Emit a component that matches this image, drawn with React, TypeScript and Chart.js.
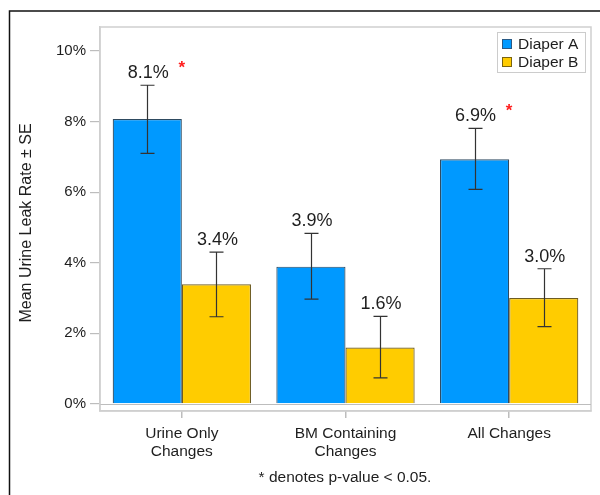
import React, { useEffect, useRef } from "react";
import { Chart, registerables } from "chart.js";

Chart.register(...registerables);

const categories: (string | string[])[] = [["Urine Only", "Changes"], ["BM Containing", "Changes"], "All Changes"];
const seriesNames = ["Diaper A", "Diaper B"];
const valuesA = [8.07, 3.89, 6.93];
const valuesB = [3.39, 1.6, 3.0];
const errHighA = [9.03, 4.83, 7.81];
const errLowA = [7.1, 2.97, 6.08];
const errHighB = [4.3, 2.48, 3.83];
const errLowB = [2.47, 0.74, 2.19];
const significantA = [true, false, true];
const significantB = [false, false, false];
const yTicks = [0, 2, 4, 6, 8, 10];
const yTitle = "Mean Urine Leak Rate \u00b1 SE";
const footnote = "* denotes p-value < 0.05.";

const FONT = "'Liberation Sans', Arial, sans-serif";
const BLUE = "#0099ff";
const YELLOW = "#ffcc00";
const TEXT = "#1e1e1e";

const customPlugin = {
  id: "custom",
  beforeDraw(chart: any) {
    const ctx = chart.ctx;
    const a = chart.chartArea;
    ctx.save();
    ctx.strokeStyle = "#111";
    ctx.lineWidth = 1.5;
    ctx.beginPath();
    ctx.moveTo(9.5, 495);
    ctx.lineTo(9.5, 11);
    ctx.lineTo(600, 11);
    ctx.stroke();
    ctx.strokeStyle = "#cfcfcf";
    ctx.lineWidth = 1.5;
    ctx.strokeRect(a.left, a.top, a.right - a.left, a.bottom - a.top);
    const y0 = chart.scales.y.getPixelForValue(0);
    ctx.strokeStyle = "#bdbdbd";
    ctx.lineWidth = 1;
    ctx.beginPath();
    ctx.moveTo(a.left, Math.round(y0) + 0.5);
    ctx.lineTo(a.right, Math.round(y0) + 0.5);
    ctx.stroke();
    ctx.restore();
  },
  afterDatasetsDraw(chart: any) {
    const ctx = chart.ctx;
    const ys = chart.scales.y;
    const highs = [errHighA, errHighB];
    const lows = [errLowA, errLowB];
    const vals = [valuesA, valuesB];
    const sigs = [significantA, significantB];
    ctx.save();
    for (let d = 0; d < 2; d++) {
      const meta = chart.getDatasetMeta(d);
      meta.data.forEach((bar: any, i: number) => {
        const x = Math.round(bar.x) + 0.5;
        const yh = ys.getPixelForValue(highs[d][i]);
        const yl = ys.getPixelForValue(lows[d][i]);
        ctx.strokeStyle = "#333333";
        ctx.lineWidth = 1.2;
        ctx.beginPath();
        ctx.moveTo(x, yh);
        ctx.lineTo(x, yl);
        ctx.moveTo(x - 7, yh);
        ctx.lineTo(x + 7, yh);
        ctx.moveTo(x - 7, yl);
        ctx.lineTo(x + 7, yl);
        ctx.stroke();
        const labelY = yh - 12;
        ctx.fillStyle = TEXT;
        ctx.font = `18px ${FONT}`;
        ctx.textAlign = "center";
        ctx.textBaseline = "middle";
        ctx.fillText(`${vals[d][i].toFixed(1)}%`, bar.x + 1, labelY);
        if (sigs[d][i]) {
          ctx.fillStyle = "#ff2020";
          ctx.font = `bold 17px ${FONT}`;
          ctx.textBaseline = "alphabetic";
          ctx.fillText("*", bar.x + bar.width / 2, labelY);
        }
      });
    }
    ctx.fillStyle = TEXT;
    ctx.font = `16px ${FONT}`;
    ctx.textAlign = "center";
    ctx.textBaseline = "middle";
    ctx.save();
    ctx.translate(27, 223);
    ctx.rotate(-Math.PI / 2);
    ctx.fillText(yTitle, 0, 0);
    ctx.restore();
    ctx.font = `15.5px ${FONT}`;
    ctx.fillText(footnote, 345, 478);
    const lx = 497, ly = 32, lw = 88, lh = 40;
    ctx.fillStyle = "#fff";
    ctx.fillRect(lx, ly, lw, lh);
    ctx.strokeStyle = "#cccccc";
    ctx.lineWidth = 1;
    ctx.strokeRect(lx + 0.5, ly + 0.5, lw, lh);
    const colors = [BLUE, YELLOW];
    const borders = ["#2a5a85", "#7a6410"];
    seriesNames.forEach((name, k) => {
      const cy = 44 + k * 18;
      ctx.fillStyle = colors[k];
      ctx.fillRect(502, cy - 5, 10, 10);
      ctx.strokeStyle = borders[k];
      ctx.strokeRect(502.5, cy - 4.5, 9, 9);
      ctx.fillStyle = TEXT;
      ctx.font = `15.5px ${FONT}`;
      ctx.textAlign = "left";
      ctx.textBaseline = "middle";
      ctx.fillText(name, 518, cy + 1);
    });
    ctx.restore();
  },
};

export default function App() {
  const ref = useRef<HTMLCanvasElement | null>(null);
  useEffect(() => {
    document.body.style.margin = "0";
    if (!ref.current) return;
    const chart = new Chart(ref.current, {
      type: "bar",
      data: {
        labels: categories,
        datasets: [
          {
            label: seriesNames[0],
            data: valuesA,
            backgroundColor: BLUE,
            borderColor: "#2e4a60",
            borderWidth: 1.2,
            categoryPercentage: 0.845,
            barPercentage: 1,
          },
          {
            label: seriesNames[1],
            data: valuesB,
            backgroundColor: YELLOW,
            borderColor: "#6e5c22",
            borderWidth: 1.2,
            categoryPercentage: 0.845,
            barPercentage: 1,
          },
        ],
      },
      options: {
        responsive: false,
        animation: false,
        layout: { padding: { top: 27, right: 9, left: 0, bottom: 0 } },
        plugins: { legend: { display: false }, tooltip: { enabled: false }, title: { display: false } },
        scales: {
          x: {
            grid: {
              offset: false,
              drawOnChartArea: false,
              drawTicks: true,
              tickLength: 7,
              color: "#bdbdbd",
              lineWidth: 1.5,
            },
            border: { display: true, color: "#cfcfcf", width: 1.5 },
            ticks: {
              color: TEXT,
              padding: 7,
              font: { family: FONT, size: 15.5, lineHeight: "18px" },
              maxRotation: 0,
              autoSkip: false,
            },
            afterFit(scale: any) {
              scale.height = 84;
            },
          },
          y: {
            min: -0.2,
            max: 10.68,
            afterBuildTicks(axis: any) {
              axis.ticks = yTicks.map((v) => ({ value: v }));
            },
            grid: {
              drawOnChartArea: false,
              drawTicks: true,
              tickLength: 10,
              color: "#bdbdbd",
              lineWidth: 1.2,
            },
            border: { display: true, color: "#cfcfcf", width: 1.5 },
            ticks: {
              color: TEXT,
              padding: 4,
              font: { family: FONT, size: 15 },
              callback: (v: any) => `${v}%`,
            },
            afterFit(scale: any) {
              scale.width = 100;
            },
          },
        },
      },
      plugins: [customPlugin],
    });
    return () => chart.destroy();
  }, []);
  return (
    <div style={{ width: 600, height: 495, background: "#fff" }}>
      <canvas ref={ref} width={600} height={495} style={{ display: "block" }} />
    </div>
  );
}
